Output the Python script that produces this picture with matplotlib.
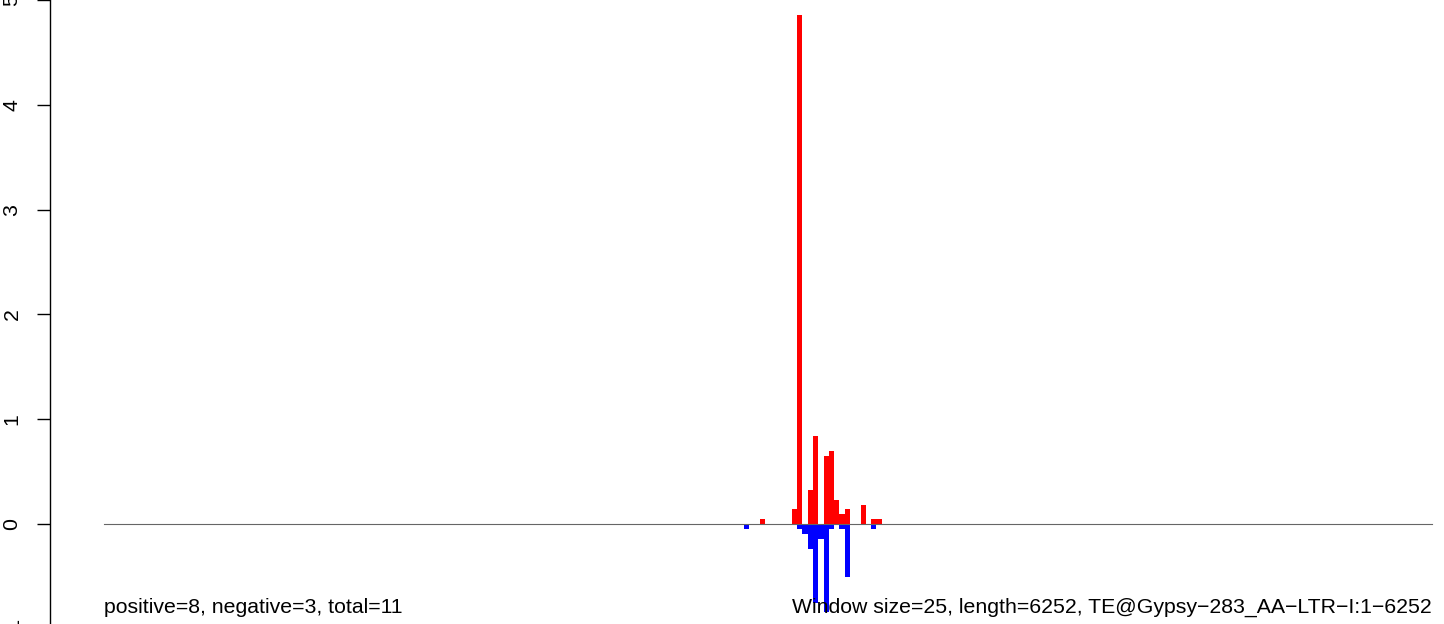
import numpy as np
import matplotlib
matplotlib.use("Agg")
import matplotlib.pyplot as plt
import matplotlib.transforms as mtransforms

plt.rcParams['font.family'] = ['Liberation Sans', 'DejaVu Sans']

# window counts (25 bp windows over 6252 bp)
n_windows = 251
pos_idx = [124, 130, 131, 133, 134, 136, 137, 138, 139, 140, 143, 145, 146]
pos_val = [0.048, 0.143, 4.86, 0.324, 0.84, 0.649, 0.697, 0.229, 0.092, 0.143, 0.181, 0.048, 0.048]
neg_idx = [121, 131, 132, 133, 134, 135, 136, 137, 139, 140, 145]
neg_val = [0.048, 0.045, 0.092, 0.235, 0.75, 0.14, 0.84, 0.048, 0.048, 0.51, 0.048]

yticks = [0, 1, 2, 3, 4, 5]
left_text = "positive=8, negative=3, total=11"
right_text = "Window size=25, length=6252, TE@Gypsy\u2212283_AA\u2212LTR\u2212I:1\u22126252"

pos = np.zeros(n_windows)
neg = np.zeros(n_windows)
pos[pos_idx] = pos_val
neg[neg_idx] = neg_val

W, H = 1444, 624
fig = plt.figure(figsize=(W / 100, H / 100), dpi=100)
ax = fig.add_axes([50 / W, 0, 1 - 50 / W, 1])

x = np.arange(n_windows)
ax.bar(x, pos, width=1.0, align='edge', color='#ff0000', linewidth=0)
ax.bar(x, -neg, width=1.0, align='edge', color='#0000ff', linewidth=0)
ax.plot([0, n_windows], [0, 0], color='#666666', linewidth=0.8, zorder=3)

ax.text(0, -0.85, left_text, ha='left', va='baseline', fontsize=15.3, zorder=4)
ax.text(n_windows, -0.85, right_text, ha='right', va='baseline', fontsize=15.3, zorder=4)

for s in ['top', 'right', 'bottom']:
    ax.spines[s].set_visible(False)
ax.spines['left'].set_linewidth(1.0)
ax.set_xticks([])
ax.set_yticks(yticks)
ax.set_yticklabels([str(t) for t in yticks], rotation=90, va='center', fontsize=15.3)
ax.tick_params(axis='y', length=9.5, width=1.0, pad=11)

# limits last: set_yticks would otherwise widen them
ppu = (1432 - 104) / n_windows
ax.set_xlim(-(104 - 50) / ppu, n_windows + (W - 1432) / ppu)
ax.set_ylim(-(H - 524) / 104.8, 524 / 104.8)

# the -1 label sits just below the (cropped) bottom edge
tr = mtransforms.blended_transform_factory(fig.transFigure, ax.transData)
ax.text(13.5 / W, -1, "\u22121", transform=tr, rotation=90, ha='center', va='center',
        fontsize=15.3, clip_on=False)

fig.savefig("out.png", dpi=100)
